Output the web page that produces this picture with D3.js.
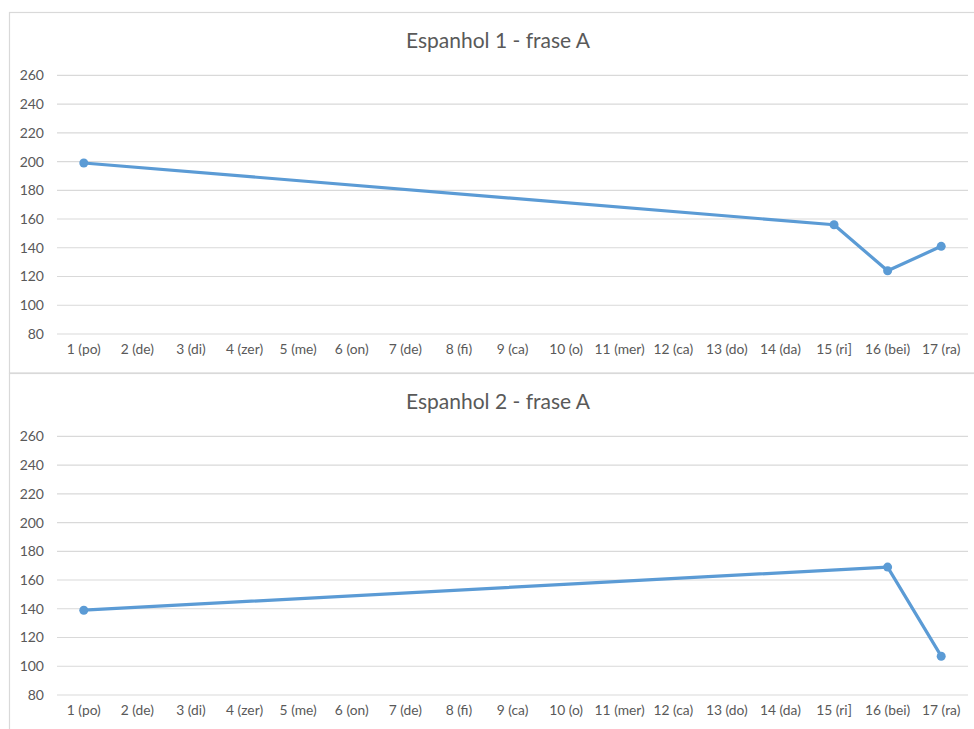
<!DOCTYPE html>
<html>
<head>
<meta charset="utf-8">
<script src="https://cdn.jsdelivr.net/npm/d3@7"></script>
<style>
  html, body { margin: 0; padding: 0; background: #fff; }
  svg { display: block; }
</style>
</head>
<body>
<svg id="chart" width="974" height="729"></svg>
<script>
const categories = ["1 (po)", "2 (de)", "3 (di)", "4 (zer)", "5 (me)", "6 (on)", "7 (de)", "8 (fi)", "9 (ca)", "10 (o)", "11 (mer)", "12 (ca)", "13 (do)", "14 (da)", "15 (ri]", "16 (bei)", "17 (ra)"];
const titles = ["Espanhol 1 - frase A", "Espanhol 2 - frase A"];
const series1 = [199, null, null, null, null, null, null, null, null, null, null, null, null, null, 156, 124, 141];
const series2 = [139, null, null, null, null, null, null, null, null, null, null, null, null, null, null, 169, 107];
const yTicks = [80, 100, 120, 140, 160, 180, 200, 220, 240, 260];

const svg = d3.select("#chart");
const FONT = "Lato, 'Open Sans', sans-serif";

function drawChart(offsetY, boxH, title, values) {
  const g = svg.append("g").attr("transform", `translate(0,${offsetY})`);
  g.append("rect")
    .attr("x", 9.5).attr("y", 0.5)
    .attr("width", 974).attr("height", boxH)
    .attr("fill", "#fff").attr("stroke", "#d9d9d9").attr("stroke-width", 1.2);

  const x = d3.scaleBand().domain(categories).range([57, 968]);
  const y = d3.scaleLinear().domain([80, 260]).range([322, 63.3]);

  g.append("g").selectAll("line").data(yTicks).join("line")
    .attr("x1", 57).attr("x2", 968)
    .attr("y1", d => y(d)).attr("y2", d => y(d))
    .attr("stroke", "#d9d9d9").attr("stroke-width", 1.2);

  const yAxis = d3.axisLeft(y).tickValues(yTicks).tickSize(0).tickPadding(13);
  const ya = g.append("g").attr("transform", "translate(57,0)").call(yAxis);
  ya.select(".domain").remove();
  ya.selectAll("text").attr("fill", "#595959").style("font-family", FONT).style("font-size", "14px");

  const xAxis = d3.axisBottom(x).tickSize(0).tickPadding(10);
  const xa = g.append("g").attr("transform", "translate(0,322)").call(xAxis);
  xa.select(".domain").remove();
  xa.selectAll("text").attr("fill", "#595959").style("font-family", FONT).style("font-size", "13.8px");

  g.append("text")
    .attr("x", 498).attr("y", 36)
    .attr("text-anchor", "middle")
    .attr("fill", "#595959")
    .style("font-family", FONT).style("font-size", "21px")
    .text(title);

  const pts = categories.map((c, i) => ({ c, v: values[i] })).filter(d => d.v != null);
  const line = d3.line().x(d => x(d.c) + x.bandwidth() / 2).y(d => y(d.v));
  g.append("path").datum(pts)
    .attr("d", line)
    .attr("fill", "none").attr("stroke", "#5B9BD5")
    .attr("stroke-width", 3.2).attr("stroke-linejoin", "round");
  g.append("g").selectAll("circle").data(pts).join("circle")
    .attr("cx", d => x(d.c) + x.bandwidth() / 2)
    .attr("cy", d => y(d.v))
    .attr("r", 4.5).attr("fill", "#5B9BD5");
}

drawChart(12, 360.5, titles[0], series1);
drawChart(373, 400, titles[1], series2);
</script>
</body>
</html>
